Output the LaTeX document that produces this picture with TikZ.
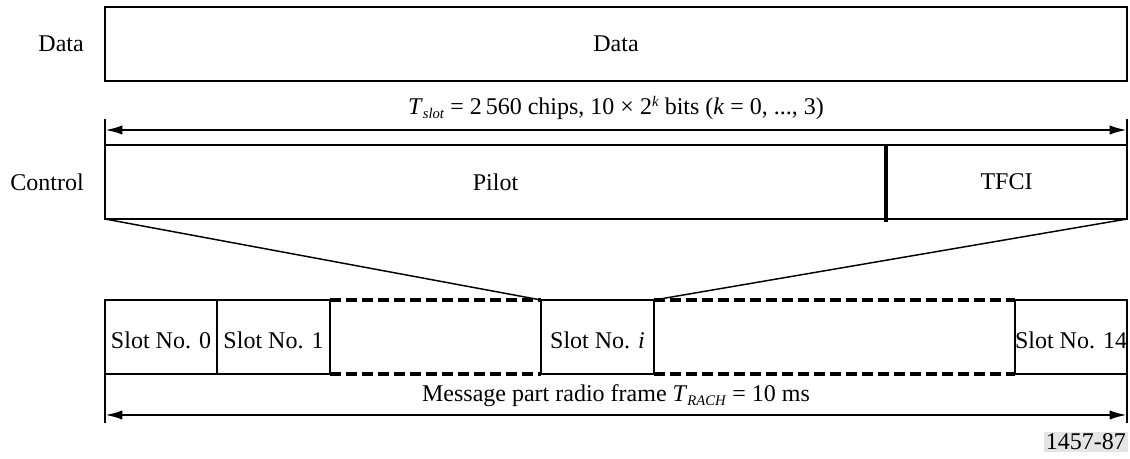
\documentclass[tikz,border=0pt]{standalone}
\usepackage{fontspec}
\setmainfont{Liberation Serif}
\usetikzlibrary{arrows.meta}
\newcommand{\mysub}[1]{\raisebox{-0.35ex}{\fontsize{11}{12}\selectfont\textit{#1}}}
\newcommand{\mysup}[1]{\raisebox{0.7ex}{\fontsize{11}{12}\selectfont\textit{#1}}}
\begin{document}
\begin{tikzpicture}[x=0.75pt,y=-0.75pt,
  every node/.style={font=\fontsize{18}{21}\selectfont},
  box/.style={draw,line width=1.8pt,anchor=north west,inner sep=0pt,outer sep=0pt,minimum height=74*0.75pt},
  lbl/.style={inner sep=0pt},
  dim/.style={line width=1.8pt,{Latex[length=13pt,width=7pt]}-{Latex[length=13pt,width=7pt]}},
  tick/.style={line width=1.8pt},
  fan/.style={line width=1.1pt},
  dashline/.style={line width=2.6pt,dash pattern=on 8pt off 4pt}]
\useasboundingbox (0,0) rectangle (1130,459);
% Data
\node[box,minimum width=1022*0.75pt] (data) at (105,7) {};
\node[lbl] (datatxt) at (data.center) {Data};
\node[lbl,anchor=east] (datalbl) at (84,44) {Data};
% Slot dimension
\coordinate (tl1) at (105,119);
\coordinate (tr1) at (1127,119);
\coordinate (al1) at (105,130);
\coordinate (ar1) at (1127,130);
\node[lbl] (tslot) at (616,108) {\textit{T}\mysub{slot} = 2\,560 chips, 10 × 2\mysup{k} bits (\textit{k} = 0, ..., 3)};
% Control
\node[box,minimum width=781*0.75pt] (pilot) at (105,145) {};
\node[box,minimum width=241*0.75pt] (tfci) at (886,145) {};
\node[lbl] (pilottxt) at (pilot.center) {Pilot};
\node[lbl] (tfcitxt) at (tfci.center) {TFCI};
\node[lbl,anchor=east] (ctrllbl) at (84,182) {Control};
\coordinate (divb) at (886,222);
\draw[line width=2.3pt] (tfci.north west) -- (divb);
\draw[tick] (tl1) -- (pilot.north west);
\draw[tick] (tr1) -- (tfci.north east);
\draw[dim] (al1) -- (ar1);
% Slots
\node[box,minimum width=112*0.75pt] (s0) at (105,300) {};
\node[box,minimum width=113*0.75pt] (s1) at (217,300) {};
\node[box,minimum width=113*0.75pt] (si) at (541,300) {};
\node[box,minimum width=112*0.75pt] (s14) at (1015,300) {};
\node[lbl] (s0t) at ([yshift=-3*0.75pt]s0.center) {Slot No. 0};
\node[lbl] (s1t) at ([yshift=-3*0.75pt]s1.center) {Slot No. 1};
\node[lbl] (sit) at ([yshift=-3*0.75pt]si.center) {Slot No. \textit{i}};
\node[lbl] (s14t) at ([yshift=-3*0.75pt]s14.center) {Slot No. 14};
\draw[dashline] (s1.north east) -- (si.north west);
\draw[dashline] (s1.south east) -- (si.south west);
\draw[dashline] (si.north east) -- (s14.north west);
\draw[dashline] (si.south east) -- (s14.south west);
% Fan
\draw[fan] (pilot.south west) -- (si.north west);
\draw[fan] (tfci.south east) -- (si.north east);
% Frame dimension
\coordinate (tl2) at (105,423);
\coordinate (tr2) at (1127,423);
\coordinate (al2) at (105,415);
\coordinate (ar2) at (1127,415);
\draw[tick] (s0.south west) -- (tl2);
\draw[tick] (s14.south east) -- (tr2);
\draw[dim] (al2) -- (ar2);
\node[lbl] (frame) at (616,396) {Message part radio frame \textit{T}\mysub{RACH} = 10 ms};
% Figure number
\node[fill=black!10,inner sep=1.5pt,anchor=east] (fig) at (1128,442) {1457-87};
\end{tikzpicture}
\end{document}
